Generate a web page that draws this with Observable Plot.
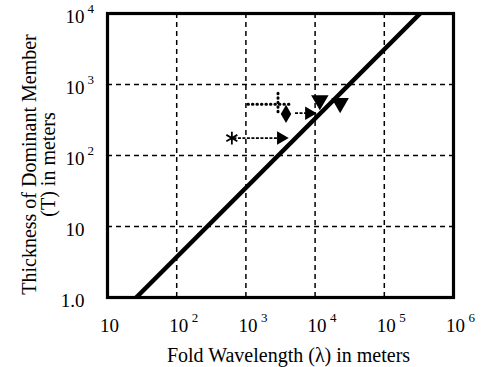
<!DOCTYPE html>
<html><head><meta charset="utf-8">
<script src="https://cdn.jsdelivr.net/npm/d3@7"></script>
<script src="https://cdn.jsdelivr.net/npm/@observablehq/plot@0.6"></script>
<style>
body{margin:0;background:#fff;}
svg{font-family:"Liberation Serif","DejaVu Serif",serif;}
</style></head>
<body><div id="chart"></div>
<script>
// Tick values and labels
const xTicks = [10, 100, 1e3, 1e4, 1e5, 1e6];
const xBase = ["10", "10", "10", "10", "10", "10"];
const xExp = ["", "2", "3", "4", "5", "6"];
const yTicks = [1, 10, 100, 1e3, 1e4];
const yBase = ["1.0", "10", "10", "10", "10"];
const yExp = ["", "", "2", "3", "4"];
const xGrid = [100, 1e3, 1e4, 1e5];
const yGrid = [10, 100, 1e3];
const xLabel = "Fold Wavelength (\u03bb) in meters";
const yLabel = "Thickness of Dominant Member\n(T) in meters";

// Fitted line (wavelength, thickness)
const fitX = [26, 3.3e5];
const fitY = [1, 1e4];

// Data points
const starX = [627], starY = [176];
const rowX1 = [1070], rowX2 = [4640], rowY = [528];
const plusX = [1350, 1760], plusY = [528, 528];
const vertX = [2910], vertY1 = [754], vertY2 = [395];
const diamondX = [3800], diamondY = [385];
const triX = [11700, 23000], triY = [601, 546];
// Arrows: start x, end x, y
const arrowX1 = [660, 5130], arrowX2 = [3670, 9330], arrowY = [176, 395];

const fit = fitX.map((x, i) => ({x, y: fitY[i]}));
const arrows = arrowX1.map((x1, i) => ({x1, x2: arrowX2[i], y: arrowY[i]}));

const chart = Plot.plot({
  width: 482, height: 367,
  marginLeft: 107, marginRight: 29, marginTop: 13, marginBottom: 70,
  style: {fontFamily: "Liberation Serif, serif", background: "#fff", color: "#000"},
  x: {type: "log", domain: [10, 1e6], axis: null},
  y: {type: "log", domain: [1, 1e4], axis: null},
  marks: [
    Plot.ruleX(xGrid, {stroke: "#000", strokeWidth: 1.5, strokeDasharray: "5,4"}),
    Plot.ruleY(yGrid, {stroke: "#000", strokeWidth: 1.5, strokeDasharray: "5,4"}),
    Plot.line(fit, {x: "x", y: "y", stroke: "#000", strokeWidth: 4.5, clip: true}),
    // dotted row with crosses
    Plot.link(rowX1.map((x1, i) => ({x1, x2: rowX2[i], y: rowY[i]})), {x1: "x1", x2: "x2", y1: "y", y2: "y", stroke: "#000", strokeWidth: 3, strokeDasharray: "0.5,4", strokeLinecap: "round"}),
    Plot.link(vertX.map((x, i) => ({x, y1: vertY1[i], y2: vertY2[i]})), {x1: "x", x2: "x", y1: "y1", y2: "y2", stroke: "#000", strokeWidth: 3, strokeDasharray: "0.5,4", strokeLinecap: "round"}),
    Plot.dot(plusX.map((x, i) => ({x, y: plusY[i]})), {x: "x", y: "y", symbol: "plus", r: 5, fill: "#000", stroke: "none"}),
    Plot.dot(vertX.map((x, i) => ({x, y: rowY[0]})), {x: "x", y: "y", symbol: "plus", r: 5, fill: "#000", stroke: "none"}),
    Plot.dot(diamondX.map((x, i) => ({x, y: diamondY[i]})), {x: "x", y: "y", symbol: "diamond", r: 5.5, fill: "#000", stroke: "none"}),
    // star
    Plot.dot(starX.map((x, i) => ({x, y: starY[i]})), {x: "x", y: "y", symbol: "asterisk", r: 6, stroke: "#000", strokeWidth: 1.8}),
    // arrows
    Plot.link(arrows, {x1: "x1", x2: "x2", y1: "y", y2: "y", stroke: "#000", strokeWidth: 1.8, strokeDasharray: "3,1.5"}),
    Plot.dot(arrows, {x: "x2", y: "y", symbol: "triangle", rotate: 90, r: 5, fill: "#000", stroke: "none", dx: -4}),
    // downward triangles
    Plot.dot(triX.map((x, i) => ({x, y: triY[i]})), {x: "x", y: "y", symbol: "triangle", rotate: 180, r: 6.5, fill: "#000", stroke: "none"}),
    Plot.frame({stroke: "#000", strokeWidth: 3.2}),
    // tick labels
    Plot.text(xTicks, {x: d => d, frameAnchor: "bottom", lineAnchor: "middle", dy: 28, dx: 2, text: (d, i) => xBase[i], fontSize: 19, fill: "#000"}),
    Plot.text(xTicks, {x: d => d, frameAnchor: "bottom", lineAnchor: "middle", dy: 20, dx: 15, textAnchor: "start", text: (d, i) => xExp[i], fontSize: 13, fill: "#000"}),
    Plot.text(yTicks, {y: d => d, frameAnchor: "left", lineAnchor: "middle", dx: -23, dy: 3, textAnchor: "end", text: (d, i) => yBase[i], fontSize: 19, fill: "#000"}),
    Plot.text(yTicks, {y: d => d, frameAnchor: "left", lineAnchor: "middle", dx: -20, dy: -5, textAnchor: "start", text: (d, i) => yExp[i], fontSize: 13, fill: "#000"}),
    // axis titles
    Plot.text([xLabel], {frameAnchor: "bottom", lineAnchor: "middle", dy: 58, dx: 8, textAnchor: "middle", text: d => d, fontSize: 20, fill: "#000"}),
    Plot.text([yLabel], {frameAnchor: "left", dx: -68, dy: 9, rotate: -90, textAnchor: "middle", lineAnchor: "middle", text: d => d, fontSize: 20, lineHeight: 0.95, fill: "#000"})
  ]
});
document.getElementById("chart").appendChild(chart);
</script></body></html>
